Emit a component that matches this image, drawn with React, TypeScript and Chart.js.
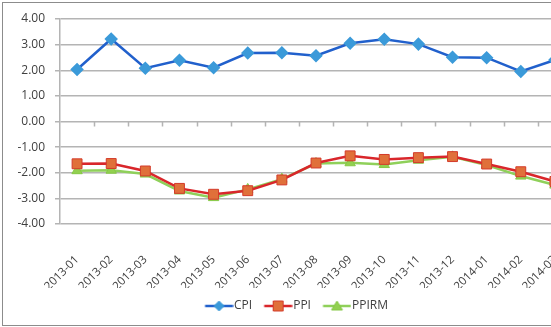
import { useEffect, useRef } from "react";
import { Chart, registerables } from "chart.js";

Chart.register(...registerables);

const categories = [
  "2013-01", "2013-02", "2013-03", "2013-04", "2013-05", "2013-06", "2013-07", "2013-08",
  "2013-09", "2013-10", "2013-11", "2013-12", "2014-01", "2014-02", "2014-03",
];
const cpiValues = [2.03, 3.22, 2.08, 2.39, 2.1, 2.67, 2.68, 2.57, 3.05, 3.21, 3.02, 2.51, 2.49, 1.95, 2.4];
const ppiValues = [-1.65, -1.64, -1.93, -2.61, -2.84, -2.7, -2.28, -1.62, -1.34, -1.48, -1.41, -1.37, -1.66, -1.96, -2.34];
const ppirmValues = [-1.92, -1.9, -2.05, -2.71, -2.97, -2.65, -2.25, -1.64, -1.61, -1.68, -1.51, -1.38, -1.7, -2.13, -2.48];
const seriesNames = ["CPI", "PPI", "PPIRM"];
const yMin = -4;
const yMax = 4;
const yStep = 1;

const FONT = "'Open Sans', 'Noto Sans', sans-serif";
const TEXT = "#404040";
const GRID = "#b4b4b4";

function makeLegendImage(line: string, fill: string, stroke: string, shape: string) {
  const c = document.createElement("canvas");
  const W = 34;
  const H = 14;
  c.width = W;
  c.height = H;
  const ctx = c.getContext("2d")!;
  const x0 = W / 2 - 11.5;
  const x1 = x0 + 28;
  const cy = H / 2;
  ctx.strokeStyle = line;
  ctx.lineWidth = 2.5;
  ctx.beginPath();
  ctx.moveTo(x0, cy);
  ctx.lineTo(x1, cy);
  ctx.stroke();
  const mx = (x0 + x1) / 2;
  ctx.fillStyle = fill;
  ctx.strokeStyle = stroke;
  ctx.lineWidth = 1;
  ctx.beginPath();
  if (shape === "diamond") {
    ctx.moveTo(mx, cy - 5);
    ctx.lineTo(mx + 5, cy);
    ctx.lineTo(mx, cy + 5);
    ctx.lineTo(mx - 5, cy);
    ctx.closePath();
  } else if (shape === "square") {
    ctx.rect(mx - 5, cy - 5, 10, 10);
  } else {
    ctx.moveTo(mx, cy - 5);
    ctx.lineTo(mx + 5.5, cy + 4);
    ctx.lineTo(mx - 5.5, cy + 4);
    ctx.closePath();
  }
  ctx.fill();
  ctx.stroke();
  return c;
}

const zeroTicks = {
  id: "zeroTicks",
  beforeDatasetsDraw(chart: any) {
    const xs = chart.scales.x;
    const ys = chart.scales.y;
    const y0 = ys.getPixelForValue(0);
    const step = xs.getPixelForValue(1) - xs.getPixelForValue(0);
    const start = xs.getPixelForValue(0) - step / 2;
    const ctx = chart.ctx;
    ctx.save();
    ctx.strokeStyle = GRID;
    ctx.lineWidth = 1.5;
    ctx.beginPath();
    for (let i = 1; i <= categories.length; i++) {
      const px = Math.round(start + i * step) + 0.5;
      ctx.moveTo(px, y0);
      ctx.lineTo(px, y0 + 5);
    }
    ctx.stroke();
    ctx.restore();
  },
};

export default function App() {
  const ref = useRef<HTMLCanvasElement>(null);

  useEffect(() => {
    document.body.style.margin = "0";
    const legendImgs = [
      makeLegendImage("#2160cc", "#3b9ad9", "#3b9ad9", "diamond"),
      makeLegendImage("#d9262b", "#e0703a", "#d43a2a", "square"),
      makeLegendImage("#8fd05a", "#92d050", "#86c846", "triangle"),
    ];
    const chart = new Chart(ref.current!, {
      type: "line",
      data: {
        labels: categories,
        datasets: [
          {
            label: seriesNames[0],
            data: cpiValues,
            borderColor: "#2160cc",
            backgroundColor: "#3b9ad9",
            pointBackgroundColor: "#3b9ad9",
            pointBorderColor: "#3b9ad9",
            pointStyle: "rectRot",
            pointRadius: 5,
            borderWidth: 2.5,
            tension: 0,
          },
          {
            label: seriesNames[1],
            data: ppiValues,
            borderColor: "#d9262b",
            backgroundColor: "#e0703a",
            pointBackgroundColor: "#e0703a",
            pointBorderColor: "#d43a2a",
            pointBorderWidth: 1,
            pointStyle: "rect",
            pointRadius: 7,
            borderWidth: 2.5,
            tension: 0,
          },
          {
            label: seriesNames[2],
            data: ppirmValues,
            borderColor: "#8fd05a",
            backgroundColor: "#92d050",
            pointBackgroundColor: "#92d050",
            pointBorderColor: "#86c846",
            pointBorderWidth: 1,
            pointStyle: "triangle",
            pointRadius: 6,
            borderWidth: 2.5,
            tension: 0,
          },
        ],
      },
      options: {
        animation: false,
        responsive: false,
        layout: { padding: { top: 13, left: 0, right: 0, bottom: 3 } },
        plugins: {
          tooltip: { enabled: false },
          legend: {
            position: "bottom",
            labels: {
              usePointStyle: true,
              pointStyleWidth: 23,
              boxHeight: 12,
              padding: 12,
              color: TEXT,
              font: { family: FONT, size: 12 },
              generateLabels: (c: any) =>
                c.data.datasets.map((ds: any, i: number) => ({
                  text: ds.label,
                  pointStyle: legendImgs[i],
                  fillStyle: ds.backgroundColor,
                  strokeStyle: ds.borderColor,
                  lineWidth: 0,
                  hidden: false,
                  datasetIndex: i,
                  fontColor: TEXT,
                })),
            },
          },
        },
        scales: {
          x: {
            type: "category",
            offset: true,
            grid: { display: false },
            border: { display: false },
            ticks: {
              color: TEXT,
              font: { family: FONT, size: 11.5 },
              minRotation: 45,
              maxRotation: 45,
              autoSkip: false,
              padding: 21,
            },
            afterFit: (s: any) => {
              s.height = 64;
            },
          },
          y: {
            type: "linear",
            min: yMin,
            max: yMax,
            ticks: {
              stepSize: yStep,
              color: TEXT,
              font: { family: FONT, size: 12, lineHeight: 1 },
              padding: 10,
              callback: (v: any) => Number(v).toFixed(2),
            },
            grid: { color: GRID, lineWidth: 1.5, tickLength: 5, drawTicks: true },
            border: { display: true, color: GRID, width: 1.5 },
            afterFit: (s: any) => {
              s.width = 57;
            },
          },
          y2: {
            type: "linear",
            position: "right",
            display: true,
            grid: { display: false },
            border: { display: false },
            ticks: { display: false },
            afterFit: (s: any) => {
              s.width = 18;
            },
          },
        },
      },
      plugins: [zeroTicks],
    });
    return () => chart.destroy();
  }, []);

  return (
    <div style={{ position: "relative", width: 551, height: 327, overflow: "hidden", background: "#fff" }}>
      <div
        style={{
          position: "absolute",
          left: 2,
          top: 2,
          width: 587,
          height: 322,
          border: "1px solid #8c8c8c",
          background: "#fff",
        }}
      >
        <canvas ref={ref} width={587} height={322} style={{ display: "block", width: 587, height: 322 }} />
      </div>
    </div>
  );
}
